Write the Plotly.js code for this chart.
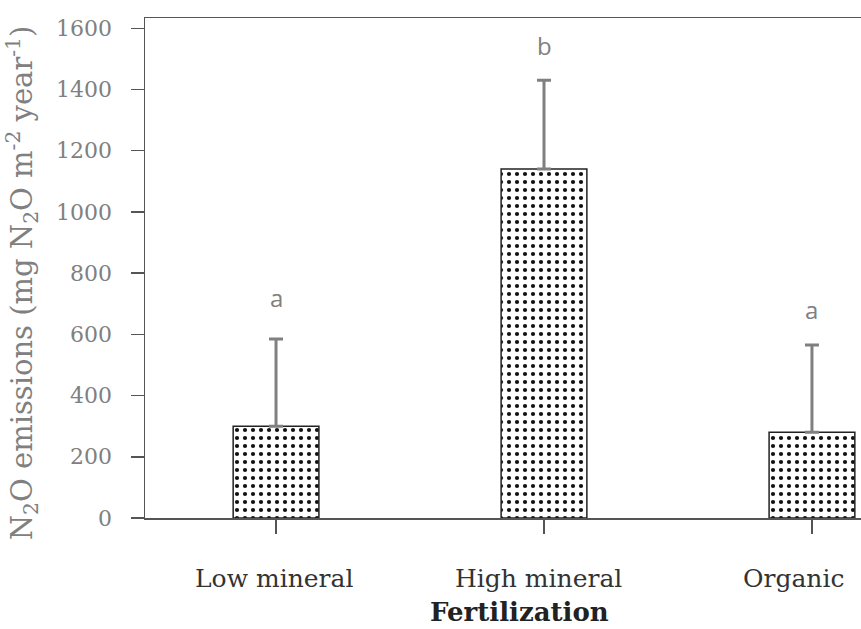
<!DOCTYPE html>
<html>
<head>
<meta charset="utf-8">
<script src="https://cdn.plot.ly/plotly-3.0.1.min.js"></script>
<style>html,body{margin:0;padding:0;background:#fff;}#chart{width:861px;height:629px;}</style>
</head>
<body>
<div id="chart"></div>
<script>
const categories = ["Low mineral", "High mineral", "Organic"];
const emissions = [300, 1140, 280];
const errors = [285, 290, 285];
const letters = ["a", "b", "a"];
const letterPos = [720, 1545, 680];
const yTicks = [0, 200, 400, 600, 800, 1000, 1200, 1400, 1600];
// horizontal pixel centres of the category labels as placed in the reference
const labelCentres = [274, 538, 793];

const trace = {
  type: "bar",
  x: categories,
  y: emissions,
  width: 0.32,
  marker: {
    color: "#ffffff",
    line: {color: "#222", width: 1.5},
    pattern: {shape: ".", fgcolor: "#111", bgcolor: "#fff", size: 8, solidity: 0.22}
  },
  error_y: {type: "data", array: errors, symmetric: false, arrayminus: [0,0,0], color: "#808080", thickness: 3, width: 7}
};

const annotations = categories.map((c, i) => ({
  x: c, y: letterPos[i], xref: "x", yref: "y", text: letters[i], showarrow: false,
  font: {family: "Open Sans, DejaVu Sans", size: 24, color: "#808080"}, yanchor: "middle"
}));
categories.forEach((c, i) => annotations.push({
  xref: "paper", yref: "paper", x: (labelCentres[i] - 145) / 716, y: -(578 - 517.7) / 500,
  text: c, showarrow: false, xanchor: "center", yanchor: "middle",
  font: {family: "DejaVu Serif", size: 25, color: "#333"}
}));
annotations.push({
  xref: "paper", yref: "paper", x: (22 - 145) / 716, y: (517.7 - 283) / 500,
  text: "N<sub>2</sub>O emissions (mg N<sub>2</sub>O m<sup>-2</sup> year<sup>-1</sup>)",
  textangle: -90, showarrow: false, xanchor: "center", yanchor: "middle",
  font: {family: "DejaVu Serif", size: 29, color: "#808080"}
});
annotations.push({
  xref: "paper", yref: "paper", x: (519 - 145) / 716, y: -(612 - 517.7) / 500,
  text: "<b>Fertilization</b>", showarrow: false, xanchor: "center", yanchor: "middle",
  font: {family: "DejaVu Serif", size: 26, color: "#222"}
});

const layout = {
  width: 861, height: 629,
  margin: {l: 145, r: 0, t: 18, b: 111.3},
  paper_bgcolor: "#fff", plot_bgcolor: "#fff",
  showlegend: false,
  xaxis: {
    type: "category", range: [-0.489, 2.183],
    showline: true, linecolor: "#555", linewidth: 1.5, mirror: true,
    ticks: "outside", ticklen: 14, tickcolor: "#555", tickwidth: 1.5,
    showticklabels: false,
    showgrid: false, zeroline: false, fixedrange: true
  },
  yaxis: {
    range: [0, 1633.7], tickvals: yTicks, ticktext: yTicks.map(String),
    showline: true, linecolor: "#555", linewidth: 1.5,
    ticks: "outside", ticklen: 13, tickcolor: "#555", tickwidth: 1.5,
    ticklabelstandoff: 14,
    tickfont: {family: "DejaVu Serif", size: 22, color: "#808080"},
    showgrid: false, zeroline: false, fixedrange: true
  },
  annotations: annotations
};

Plotly.newPlot("chart", [trace], layout, {displayModeBar: false, staticPlot: true});
</script>
</body>
</html>
